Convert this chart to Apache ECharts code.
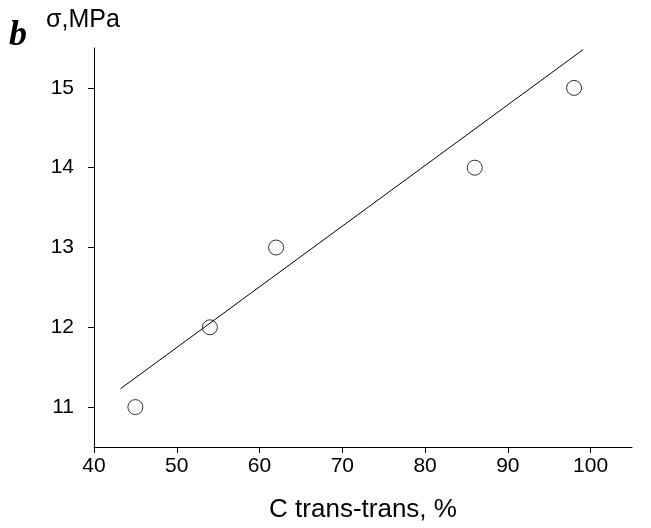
<!DOCTYPE html>
<html>
<head>
<meta charset="utf-8">
<script src="https://cdn.jsdelivr.net/npm/echarts@6/dist/echarts.min.js"></script>
<style>body{margin:0;background:#fff}#chart{width:651px;height:528px}</style>
</head>
<body>
<div id="chart"></div>
<script>
// measured points
const ttContent = [45, 54, 62, 86, 98];
const stress = [11, 12, 13, 14, 15];
// fitted line ends
const fitX = [43.2, 99.1];
const fitY = [11.23, 15.48];

let chart = echarts.init(document.querySelector("#chart"));

let option = {
    animation: false,
    grid: { left: 94, right: 19, top: 48, bottom: 81 },
    xAxis: {
        type: 'value', min: 40, max: 105, interval: 10,
        splitLine: { show: false },
        axisLine: { lineStyle: { color: '#000' } },
        axisTick: { lineStyle: { color: '#000' }, length: 6 },
        axisLabel: { color: '#000', fontSize: 21, fontFamily: 'Arial, Liberation Sans', margin: 9, showMaxLabel: false },
        name: 'C trans-trans, %', nameLocation: 'middle', nameGap: 50,
        nameTextStyle: { color: '#000', fontSize: 26, fontFamily: 'Arial, Liberation Sans' }
    },
    yAxis: {
        type: 'value', min: 10.5, max: 15.5, interval: 1,
        splitLine: { show: false },
        axisLine: { show: true, lineStyle: { color: '#000' } },
        axisTick: { show: true, lineStyle: { color: '#000' }, length: 6,
            customValues: [11, 12, 13, 14, 15] },
        axisLabel: { color: '#000', fontSize: 21, fontFamily: 'Arial, Liberation Sans', margin: 20,
            customValues: [11, 12, 13, 14, 15] }
    },
    graphic: [
        { type: 'text', left: 9, top: 18, style: { text: 'b', font: 'italic bold 36px "Liberation Serif", serif', fill: '#000' } },
        { type: 'text', left: 46, top: 8, style: { text: 'σ,MPa', font: '25px "Liberation Sans", Arial', fill: '#000' } }
    ],
    series: [
        {
            type: 'line', data: fitX.map((x, i) => [x, fitY[i]]), symbol: 'none',
            lineStyle: { color: '#000', width: 1 }
        },
        {
            type: 'scatter', data: ttContent.map((x, i) => [x, stress[i]]), symbol: 'circle', symbolSize: 15,
            itemStyle: { color: '#fff', borderColor: '#000', borderWidth: 1 }
        }
    ]
};

chart.setOption(option);
</script>
</body>
</html>
